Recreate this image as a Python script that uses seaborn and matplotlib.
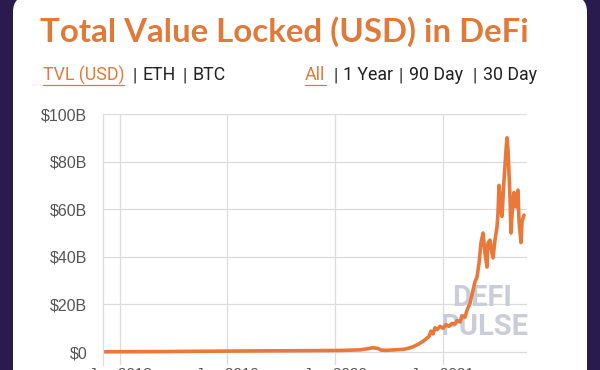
import numpy as np
import pandas as pd
import seaborn as sns
import matplotlib.pyplot as plt
from matplotlib.patches import FancyBboxPatch
from matplotlib.lines import Line2D

# TVL over time (fractional year, billions of USD)
years = [2017.842, 2018.279, 2018.744, 2019.209, 2019.674, 2020.047, 2020.233, 2020.307,
         2020.353, 2020.400, 2020.428, 2020.474, 2020.558, 2020.633, 2020.679, 2020.726,
         2020.772, 2020.809, 2020.847, 2020.874, 2020.893, 2020.912, 2020.930, 2020.949,
         2020.977, 2021.005, 2021.033, 2021.060, 2021.088, 2021.116, 2021.135, 2021.163,
         2021.181, 2021.209, 2021.228, 2021.256, 2021.284, 2021.302, 2021.321, 2021.340,
         2021.358, 2021.377, 2021.395, 2021.414, 2021.423, 2021.442, 2021.460, 2021.470,
         2021.488, 2021.507, 2021.516, 2021.526, 2021.544, 2021.553, 2021.572, 2021.591,
         2021.600, 2021.609, 2021.628, 2021.637, 2021.647, 2021.665, 2021.684, 2021.702,
         2021.712, 2021.730, 2021.740, 2021.758]
tvl = [0.1, 0.15, 0.3, 0.45, 0.55, 0.65, 0.9, 1.4,
       1.8, 1.5, 0.8, 0.7, 0.9, 1.1, 1.5, 2.2,
       3.2, 4.2, 5.5, 6.5, 8.8, 7.6, 10.2, 9.4,
       10.8, 10.0, 11.5, 10.8, 12.0, 11.8, 13.2, 12.6,
       15.2, 14.6, 17.5, 20.6, 26.0, 29.5, 31.5, 37.4,
       45.8, 50.0, 41.6, 35.7, 45.8, 47.0, 41.6, 39.5,
       47.0, 52.5, 58.0, 70.0, 61.0, 57.0, 72.0, 85.0,
       90.0, 85.0, 65.0, 50.0, 58.0, 67.0, 61.0, 68.0,
       55.0, 46.0, 55.0, 57.5]

y_ticks = [0, 20, 40, 60, 80, 100]
y_labels = ['$0', '$20B', '$40B', '$60B', '$80B', '$100B']
x_ticks = [2018, 2019, 2020, 2021]
x_labels = ['Jan 2018', 'Jan 2019', 'Jan 2020', 'Jan 2021']

df = pd.DataFrame({'year': years, 'tvl': tvl})

orange = '#E07A3A'
line_orange = '#E8793A'
purple = '#2A1B4F'
grid_c = '#DCDCDC'

sns.set_style('white')
plt.rcParams['font.family'] = ['Liberation Sans', 'DejaVu Sans']

W, H = 600, 370
fig = plt.figure(figsize=(6, 3.7), dpi=100, facecolor=purple)

# white card with rounded top corners, behind everything
card = FancyBboxPatch((13, -40), 574, 414, boxstyle='round,pad=0,rounding_size=16',
                      transform=None, facecolor='white', edgecolor='none', zorder=-5)
fig.add_artist(card)

fig.text(40 / W, 1 - 41.5 / H, 'Total Value Locked (USD) in DeFi', color=orange,
         fontsize=23.8, fontweight='bold', family=['Lato', 'DejaVu Sans'], va='baseline')

# selector row
sub_y = 1 - 80.5 / H
def sub(x, s, c='#222222'):
    fig.text(x / W, sub_y, s, color=c, fontsize=12.8, family=['Roboto', 'DejaVu Sans'],
             va='baseline')

sub(43, 'TVL (USD)', orange)
sub(132, '|')
sub(143, 'ETH')
sub(183, '|')
sub(193, 'BTC')
sub(305, 'All', orange)
sub(333, '|')
sub(343, '1 Year')
sub(399, '|')
sub(409, '90 Day')
sub(473, '|')
sub(483, '30 Day')
for x0, x1 in [(43, 124), (305, 326)]:
    fig.add_artist(Line2D([x0 / W, x1 / W], [1 - 85 / H, 1 - 85 / H], color=orange,
                          lw=0.9, transform=fig.transFigure))

ax = fig.add_axes([103 / W, 5 / H, 424 / W, 251 / H])
ax.set_facecolor('none')

# watermark
wm = dict(color='#CACDD8', fontsize=21, fontweight='bold', family=['Roboto', 'DejaVu Sans'],
          transform=fig.transFigure, va='baseline', zorder=1)
ax.text(452 / W, 1 - 306 / H, 'DEFI', **wm)
ax.text(440 / W, 1 - 335 / H, 'PULSE', **wm)

sns.lineplot(data=df, x='year', y='tvl', ax=ax, color=line_orange, lw=2.6, zorder=2)

ax.set_xlim(2017.842, 2021.786)
ax.set_ylim(-5.46, 100)
ax.set_yticks(y_ticks)
ax.set_yticklabels(y_labels)
ax.set_xticks(x_ticks)
ax.set_xticklabels(x_labels)
ax.grid(True, color=grid_c, lw=0.9)
ax.set_axisbelow(True)
ax.tick_params(axis='y', length=9.4, width=0.9, color=grid_c, pad=2, labelsize=11.5,
               labelcolor='#555555')
ax.tick_params(axis='x', length=0, pad=1.5, labelsize=11, labelcolor='#555555')
ax.set_xlabel('')
ax.set_ylabel('')
for s in ['top', 'right', 'bottom']:
    ax.spines[s].set_visible(False)
ax.spines['left'].set_color(grid_c)
ax.spines['left'].set_linewidth(0.9)

fig.savefig('out.png', dpi=100, facecolor=purple)
